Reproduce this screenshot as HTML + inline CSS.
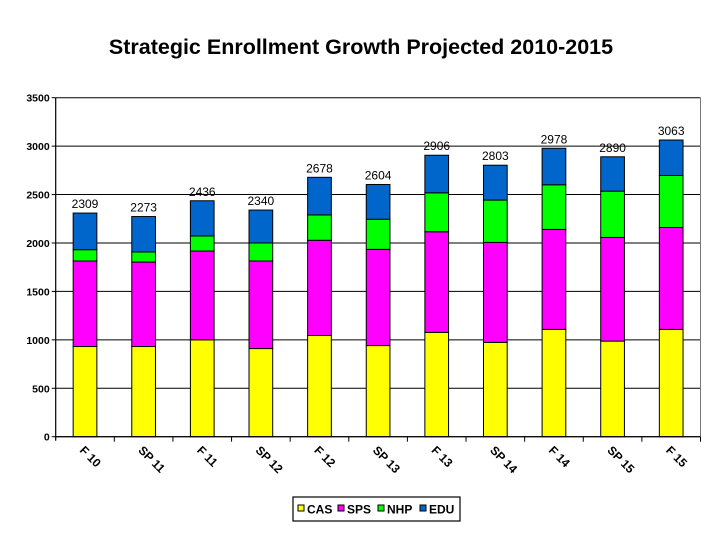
<!DOCTYPE html>
<html><head><meta charset="utf-8"><style>
body{margin:0;background:#fff;}
svg{display:block;font-family:"Liberation Sans",Arial,sans-serif;}
</style></head><body>
<svg id="c" width="720" height="540">
<text x="361" y="54" text-anchor="middle" font-size="21.5" font-weight="bold">Strategic Enrollment Growth Projected 2010-2015</text>
<g id="grid"></g><g id="bars"></g><g id="axes"></g>
<g>
<rect x="293" y="497" width="167" height="24" fill="#fff" stroke="#000" stroke-width="1.2"/>
<g id="leg"></g>
</g>
</svg>
<script>
const categories=["F 10","SP 11","F 11","SP 12","F 12","SP 13","F 13","SP 14","F 14","SP 15","F 15"];
const cas=[931,931,1000,910,1045,941,1077,974,1108,987,1108];
const sps=[883,872,917,904,983,993,1039,1032,1032,1070,1052];
const nhp=[117,104,155,186,262,311,402,437,461,478,537];
const edu=[378,366,364,340,388,359,388,360,377,355,366];
const totals=[2309,2273,2436,2340,2678,2604,2906,2803,2978,2890,3063];
const yTicks=[0,500,1000,1500,2000,2500,3000,3500];
const seriesNames=["CAS","SPS","NHP","EDU"];
const colors=["#ffff00","#ff00ff","#00ff00","#0066cc"];
const NS="http://www.w3.org/2000/svg";
const X0=55.7,X1=700.5,Y0=436.7,Ymax=3500,Ytop=97.7;
const cw=(X1-X0)/categories.length;
const y=v=>Y0-(v/Ymax)*(Y0-Ytop);
const xc=i=>X0+cw*(i+0.5);
function mk(t,a,p){const e=document.createElementNS(NS,t);for(const k in a)e.setAttribute(k,a[k]);p.appendChild(e);return e;}
const grid=document.getElementById('grid'),bars=document.getElementById('bars'),axes=document.getElementById('axes'),leg=document.getElementById('leg');
yTicks.forEach(t=>{
 const l=mk('line',{x1:X0,x2:X1,y1:y(t),y2:y(t),stroke:'#000','stroke-width':1},grid);
 
 
 const tx=mk('text',{x:X0-6,y:y(t)+4,'text-anchor':'end','font-size':10.5,'font-weight':'bold'},axes);
 tx.textContent=t;
 
 
 mk('line',{x1:X0-4,x2:X0,y1:y(t),y2:y(t),stroke:'#000'},axes);
});
mk('line',{x1:X1,x2:X1,y1:Ytop,y2:Y0,stroke:'#777','stroke-width':1},axes);
mk('line',{x1:X0,x2:X0,y1:Ytop,y2:Y0+4,stroke:'#000','stroke-width':1.2},axes);
mk('line',{x1:X0,x2:X1,y1:Y0,y2:Y0,stroke:'#000','stroke-width':1.2},axes);
const series=[cas,sps,nhp,edu];
const bw=23.7;
categories.forEach((c,i)=>{
 mk('line',{x1:X0+cw*(i+1),x2:X0+cw*(i+1),y1:Y0,y2:Y0+5,stroke:'#000'},axes);
 let base=0;
 series.forEach((s,k)=>{
  const r=mk('rect',{x:xc(i)-bw/2,y:y(base+s[i]),width:bw,height:y(base)-y(base+s[i]),fill:colors[k],stroke:'#000','stroke-width':1},bars);
  
  
  base+=s[i];
 });
 const tl=mk('text',{x:xc(i),y:y(totals[i])-5,'text-anchor':'middle','font-size':12},bars);
 tl.textContent=totals[i];
 
 
 const lx=xc(i)-6,ly=451;
 const xl=mk('text',{x:lx,y:ly,'font-size':12,'font-weight':'bold',transform:`rotate(45 ${lx} ${ly})`},axes);
 xl.textContent=c;
 
 
});
const legX=[298,338,378,420];
seriesNames.forEach((n,k)=>{
 const g=mk('g',{},leg);
 
 
 mk('rect',{x:legX[k],y:505,width:6,height:6,fill:colors[k],stroke:'#000','stroke-width':1},g);
 const t=mk('text',{x:legX[k]+9,y:513.5,'font-size':12,'font-weight':'bold'},g);
 t.textContent=n;
});
</script>
</body></html>
